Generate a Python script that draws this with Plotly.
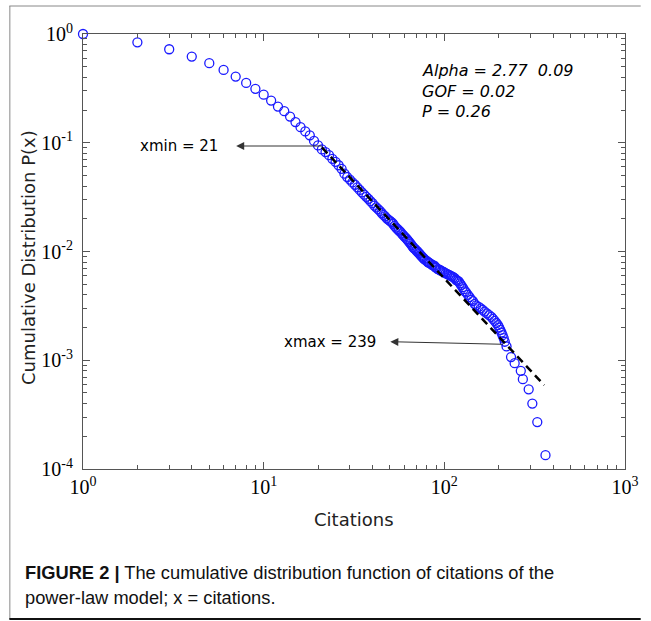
import math
import plotly.graph_objects as go

# ---- data (citations vs. cumulative distribution) ----
citations = [1, 2, 3, 4, 5, 6, 7, 8, 9, 10, 11, 12, 13, 14, 15, 16, 17, 18, 19, 20,
             21, 22, 23, 24, 25, 26, 27, 28, 29, 30, 31, 32, 33, 34, 35, 36, 37, 38, 39, 40,
             41, 42, 43, 44, 45, 46, 47, 48, 49, 50, 51, 52, 53, 54, 55, 56, 57, 58, 59, 60,
             61, 62, 63, 64, 65, 66, 67, 68, 69, 70, 71, 72, 73, 74, 75, 76, 77, 78, 80, 81,
             82, 83, 85, 86, 88, 89, 90, 92, 94, 95, 97, 99, 100, 102, 104, 106, 108, 110, 112, 114,
             116, 118, 120, 122, 124, 126, 128, 130, 132, 135, 138, 141, 144, 147, 150, 155, 159, 163, 167, 172,
             177, 182, 186, 190, 194, 198, 201, 204, 207, 210, 213, 216, 221, 234, 245, 265, 272, 293, 307, 327,
             363]
ccdf = [1.0, 0.839, 0.724, 0.620, 0.539, 0.467, 0.406, 0.355, 0.313, 0.277, 0.244, 0.215, 0.195, 0.174, 0.155, 0.139, 0.127, 0.117, 0.104, 0.0945,
        0.0868, 0.0820, 0.0768, 0.0712, 0.0668, 0.0621, 0.0576, 0.0520, 0.0484, 0.0459, 0.0432, 0.0411, 0.0389, 0.0368, 0.0349, 0.0333, 0.0318, 0.0305, 0.0290, 0.0278,
        0.0264, 0.0254, 0.0245, 0.0236, 0.0226, 0.0217, 0.0210, 0.0202, 0.0196, 0.0191, 0.0186, 0.0180, 0.0172, 0.0166, 0.0161, 0.0156, 0.0152, 0.0147, 0.0142, 0.0138,
        0.0134, 0.0130, 0.0126, 0.0122, 0.0118, 0.0114, 0.0110, 0.0107, 0.0105, 0.0102, 0.0100, 0.0097, 0.0095, 0.0092, 0.0090, 0.0088, 0.0086, 0.0084, 0.0082, 0.0080,
        0.0079, 0.0078, 0.0076, 0.0075, 0.0074, 0.0072, 0.0071, 0.0069, 0.0068, 0.0067, 0.0066, 0.0065, 0.0064, 0.0063, 0.0062, 0.0061, 0.0060, 0.0059, 0.0058, 0.0057,
        0.0055, 0.0054, 0.0053, 0.0051, 0.0049, 0.0047, 0.0045, 0.0043, 0.0042, 0.0040, 0.0038, 0.0036, 0.0035, 0.0033, 0.0032, 0.0031, 0.0030, 0.0029, 0.0028, 0.0027,
        0.0026, 0.0025, 0.0024, 0.0023, 0.0022, 0.0021, 0.0020, 0.0019, 0.0018, 0.0017, 0.0016, 0.00148, 0.00134, 0.00107, 0.00094, 0.00080, 0.00067, 0.00054, 0.00040, 0.00027,
        0.000134]

# fitted power law (alpha = 2.77) drawn from xmin to its end
fit_x = [21, 357]
fit_p = [0.0905, 0.00059]

x_tickvals = [1, 10, 100, 1000]
x_ticktext = ["10<sup>0</sup>", "10<sup>1</sup>", "10<sup>2</sup>", "10<sup>3</sup>"]
y_tickvals = [1e-4, 1e-3, 1e-2, 1e-1, 1]
y_ticktext = ["10<sup>-4</sup>", "10<sup>-3</sup>", "10<sup>-2</sup>", "10<sup>-1</sup>", "10<sup>0</sup>"]
x_minor = [m * 10 ** e for e in range(0, 3) for m in range(2, 10)]
y_minor = [m * 10.0 ** e for e in range(-4, 0) for m in range(2, 10)]

stats_lines = ["Alpha = 2.77\u00a0 0.09", "GOF = 0.02", "P = 0.26"]
xmin_label = "xmin = 21"
xmax_label = "xmax = 239"
caption_1 = "<b>FIGURE 2 |</b> The cumulative distribution function of citations of the"
caption_2 = "power-law model; x = citations."

# ---- geometry (page pixels) ----
L, R, T, B = 83, 635, 34, 469
W, H = 651, 621


def xp(px):
    return (px - L) / (R - L)


def yp(py):
    return (B - py) / (B - T)


fig = go.Figure()
fig.add_trace(go.Scatter(
    x=citations, y=ccdf, mode="markers", cliponaxis=False,
    marker=dict(symbol="circle-open", size=9, color="#1a1aff", line=dict(width=1.3)),
    hoverinfo="skip"))
fig.add_trace(go.Scatter(
    x=fit_x, y=fit_p, mode="lines",
    line=dict(color="black", width=2.5, dash="8px,5px"), hoverinfo="skip"))

axis_common = dict(
    type="log", tickmode="array", ticks="inside", ticklen=7, tickwidth=1,
    tickcolor="#555555", showline=True, linecolor="#555555", linewidth=1,
    mirror="ticks", showgrid=False, zeroline=False,
    tickfont=dict(family="Liberation Serif, Times New Roman, serif", size=20, color="black"),
)

fig.update_layout(
    width=W, height=H, autosize=False,
    margin=dict(l=L, r=W - R, t=T, b=H - B, pad=0),
    paper_bgcolor="white", plot_bgcolor="white", showlegend=False,
    xaxis=dict(range=[0, 3], tickvals=x_tickvals, ticktext=x_ticktext,
               minor=dict(tickmode="array", tickvals=x_minor, ticks="inside", ticklen=4,
                          tickcolor="#555555", showgrid=False),
               **axis_common),
    yaxis=dict(range=[-4, 0], tickvals=y_tickvals, ticktext=y_ticktext, ticklabelstandoff=5,
               minor=dict(tickmode="array", tickvals=y_minor, ticks="inside", ticklen=4,
                          tickcolor="#555555", showgrid=False),
               **axis_common),
)

ann = []
# stats text
for line, py in zip(stats_lines, [70.7, 91.7, 111.7]):
    ann.append(dict(xref="paper", yref="paper", x=xp(426), y=yp(py), xanchor="left", yanchor="middle",
                    text="<i>" + line + "</i>", showarrow=False,
                    font=dict(family="DejaVu Sans", size=16, color="black")))
# xmin / xmax labels
ann.append(dict(xref="paper", yref="paper", x=xp(223), y=yp(146), xanchor="right", yanchor="middle",
                text=xmin_label, showarrow=False, font=dict(family="DejaVu Sans", size=15, color="black")))
ann.append(dict(xref="paper", yref="paper", x=xp(383), y=yp(342), xanchor="right", yanchor="middle",
                text=xmax_label, showarrow=False, font=dict(family="DejaVu Sans", size=15, color="black")))
# arrows (head at tip near the label, tail at the data point)
lx = lambda px: (px - L) / (R - L) * 3
ly = lambda py: -(py - T) / (B - T) * 4
ann.append(dict(xref="x", yref="y", axref="x", ayref="y",
                x=lx(239), y=ly(146), ax=lx(328), ay=ly(146), text="", showarrow=True,
                arrowhead=2, arrowsize=1.6, arrowwidth=1, arrowcolor="#333333", standoff=0, startstandoff=0))
ann.append(dict(xref="x", yref="y", axref="x", ayref="y",
                x=lx(396), y=ly(341.7), ax=lx(512), ay=ly(344.3), text="", showarrow=True,
                arrowhead=2, arrowsize=1.6, arrowwidth=1, arrowcolor="#333333", standoff=0, startstandoff=0))
# axis titles
ann.append(dict(xref="paper", yref="paper", x=0.5, y=yp(519.5), xanchor="center", yanchor="middle",
                text="Citations", showarrow=False, font=dict(family="DejaVu Sans", size=18, color="#222222")))
ann.append(dict(xref="paper", yref="paper", x=xp(27), y=yp(258), xanchor="center", yanchor="middle",
                text="Cumulative Distribution P(x)", textangle=-90, showarrow=False,
                font=dict(family="DejaVu Sans", size=18, color="#222222")))
# caption
ann.append(dict(xref="paper", yref="paper", x=xp(22), y=yp(572), xanchor="left", yanchor="middle",
                text=caption_1, showarrow=False,
                font=dict(family="Liberation Sans, Arial, sans-serif", size=18.3, color="#111111")))
ann.append(dict(xref="paper", yref="paper", x=xp(22), y=yp(597), xanchor="left", yanchor="middle",
                text=caption_2, showarrow=False,
                font=dict(family="Liberation Sans, Arial, sans-serif", size=18.3, color="#111111")))
fig.update_layout(annotations=ann)

# outer frame lines
fig.update_layout(shapes=[
    dict(type="line", xref="paper", yref="paper", x0=xp(8), x1=xp(651), y0=yp(6), y1=yp(6),
         line=dict(color="#888888", width=1)),
    dict(type="line", xref="paper", yref="paper", x0=xp(8.5), x1=xp(8.5), y0=yp(6), y1=yp(619),
         line=dict(color="#888888", width=1)),
    dict(type="line", xref="paper", yref="paper", x0=xp(8), x1=xp(651), y0=yp(619), y1=yp(619),
         line=dict(color="#111111", width=2)),
])

# remove the default page margin so the 651x621 figure fills the window exactly
page_fix = ("document.documentElement.style.margin='0';document.documentElement.style.overflow='hidden';"
            "document.body.style.margin='0';document.body.style.overflow='hidden';")
fig.write_html("out.html", post_script=page_fix, config={"displayModeBar": False})
